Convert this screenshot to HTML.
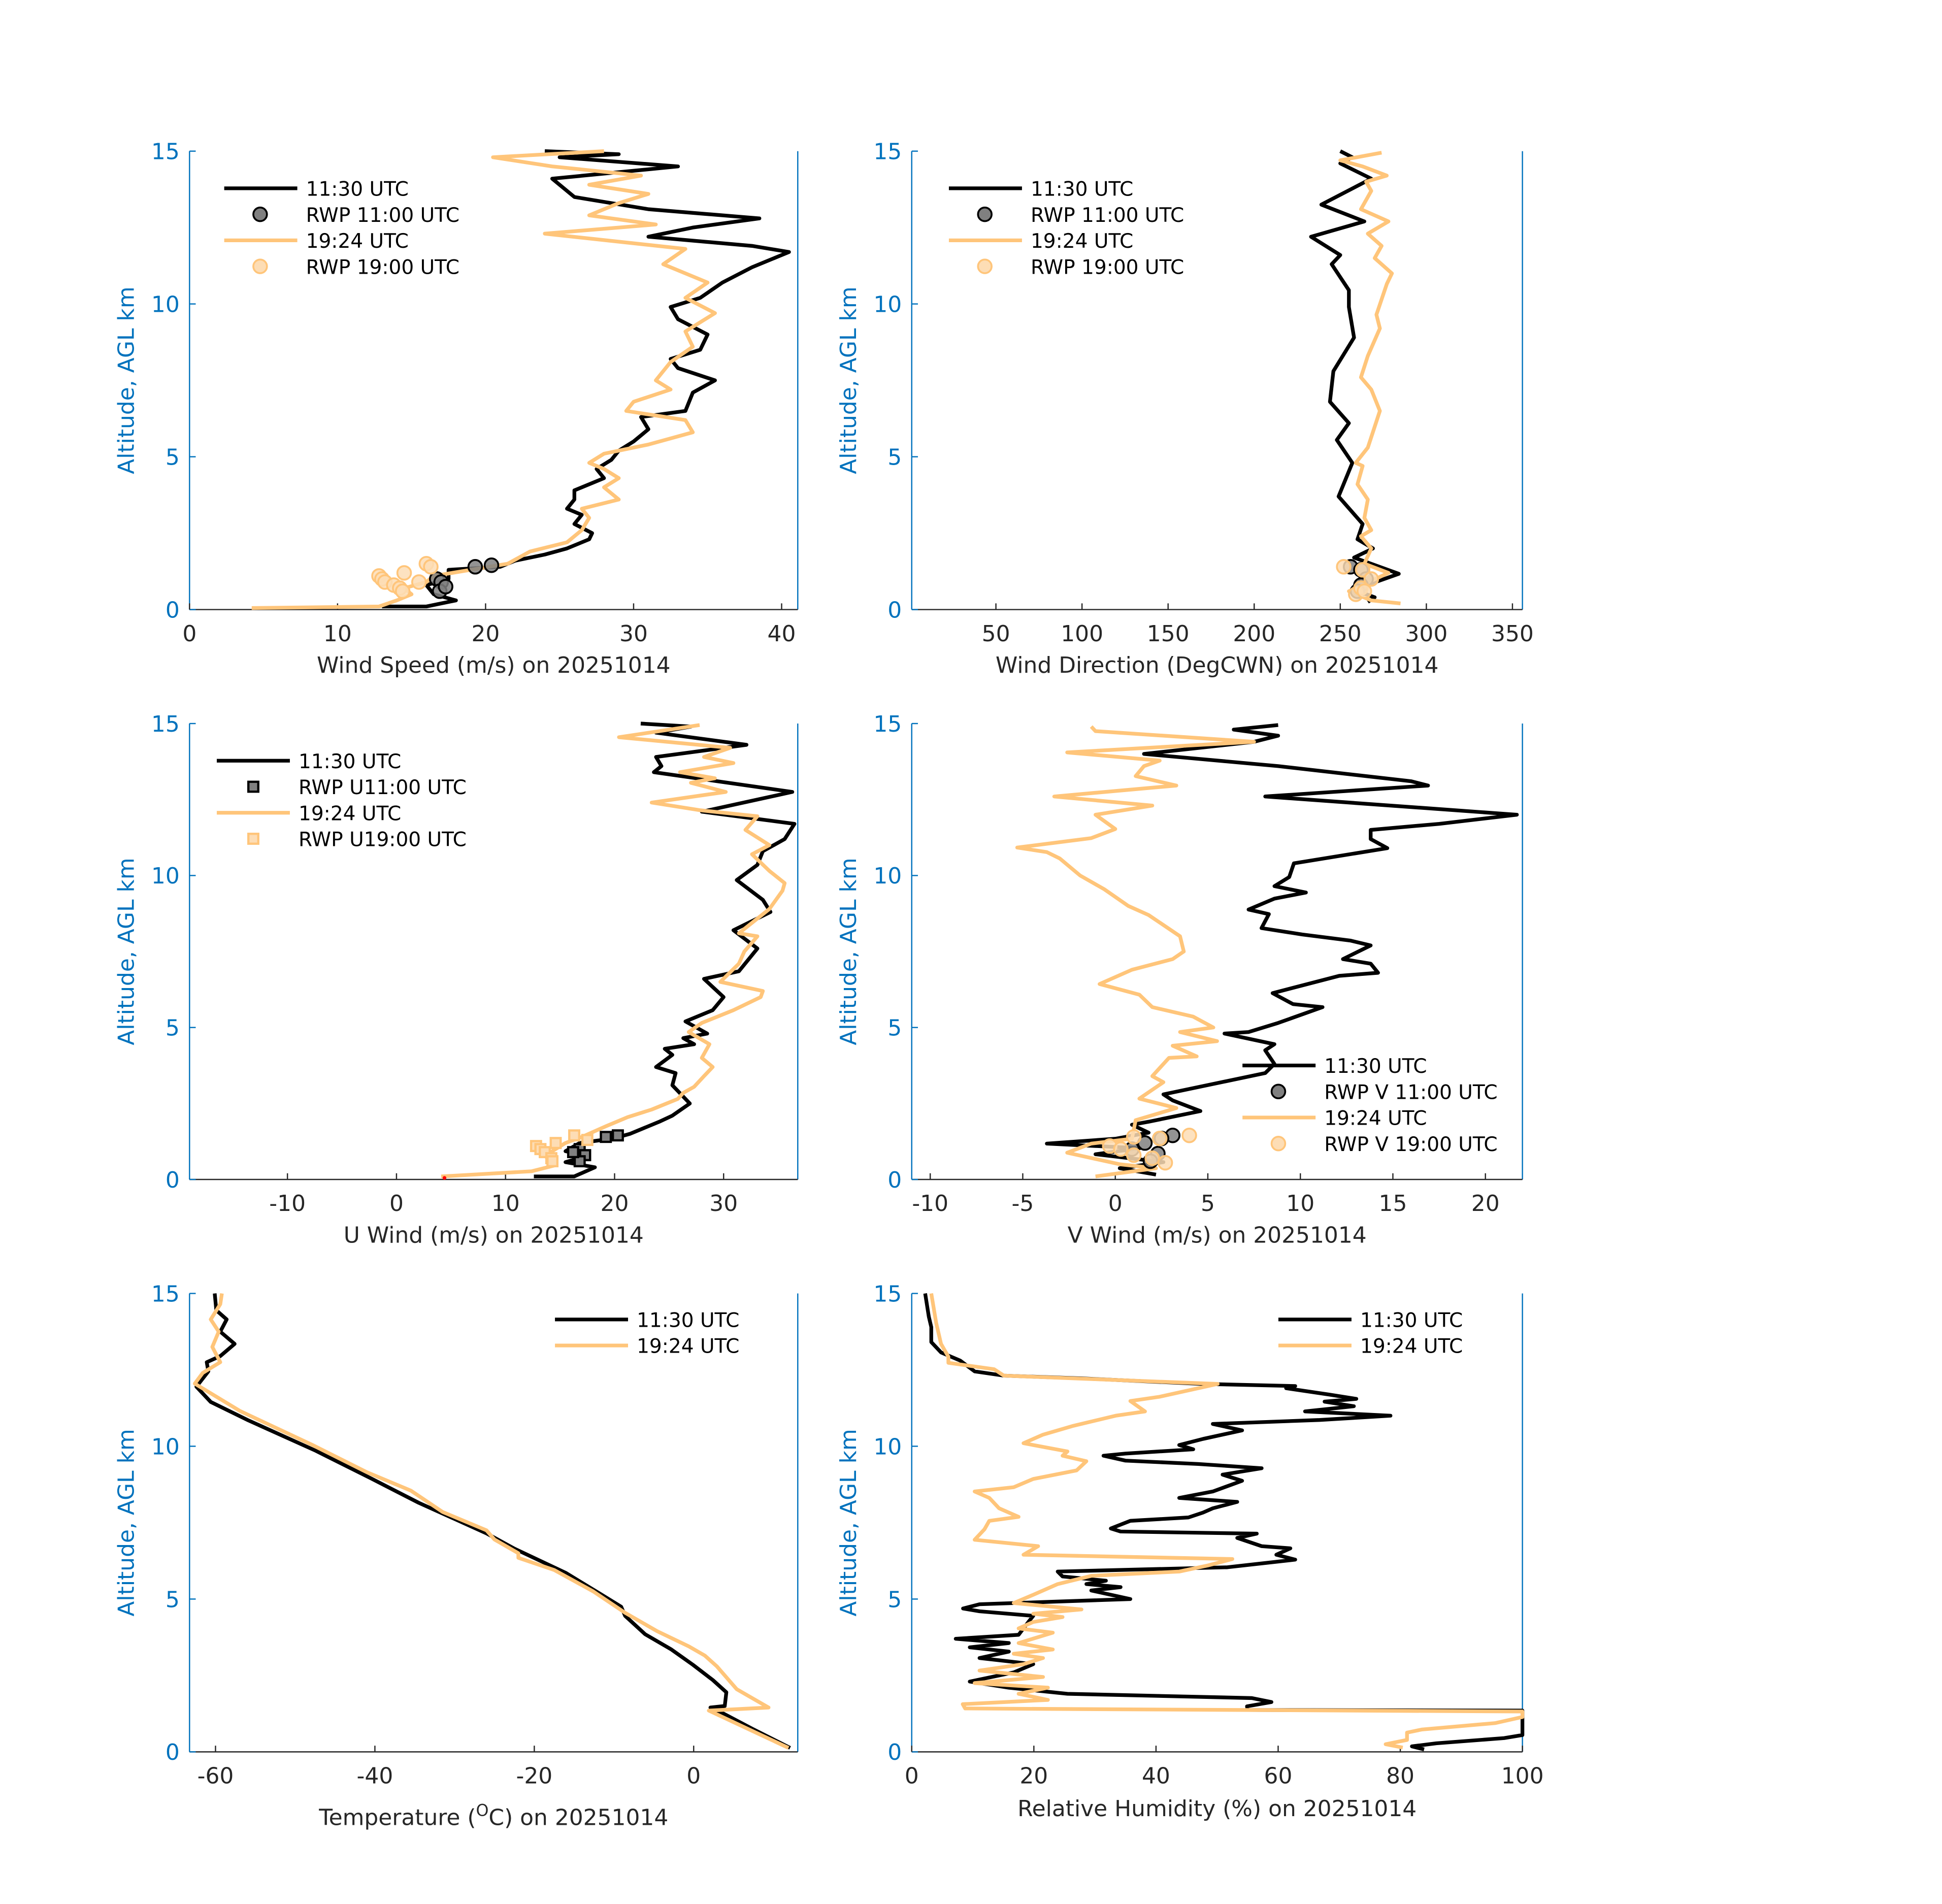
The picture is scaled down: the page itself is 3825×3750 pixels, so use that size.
<!DOCTYPE html>
<html><head><meta charset="utf-8"><style>
html,body{margin:0;padding:0;background:#fff;}
svg{display:block;font-family:"DejaVu Sans","Liberation Sans",sans-serif;}
</style></head><body>
<svg id="fig" xmlns="http://www.w3.org/2000/svg" width="3825" height="3750" viewBox="0 0 1567.7 1536.8" preserveAspectRatio="none"></svg>
<script>
// ---- data (altitude km, value) ----
const wsBlackAlt=[0.1,0.1,0.3,0.5,0.8,1.0,1.3,1.4,1.6,1.8,2.0,2.3,2.5,2.8,3.1,3.3,3.6,3.9,4.3,4.6,4.9,5.2,5.5,5.9,6.3,6.5,7.1,7.5,7.9,8.2,8.5,9.0,9.5,9.9,10.2,10.7,11.2,11.7,11.9,12.2,12.5,12.8,13.1,13.5,13.7,14.1,14.5,14.8,14.9,15];
const wsBlack=[13,16,18,16.5,16,17.5,17.5,21,22,24,25.5,27,27.2,26,26.5,25.5,26,26,28,27.5,28.5,29,30,31,30.5,33.5,34,35.5,33,32.5,34.5,35,33,32.5,34.5,36,38,40.5,38,31,34,38.5,31,26,25.5,24.5,33,25,29,24];
const wsOrangeAlt=[0.05,0.1,0.3,0.5,0.7,0.9,1.1,1.3,1.5,1.9,2.2,2.6,3.0,3.3,3.6,4.0,4.3,4.6,4.8,5.1,5.4,5.8,6.2,6.5,6.8,7.2,7.5,8.1,8.6,9.1,9.7,10.2,10.7,11.3,11.8,12.3,12.6,12.9,13.3,13.6,13.9,14.2,14.5,14.8,15];
const wsOrange=[4.2,12.8,14,15,14.5,16,16.5,19,21.5,23,25.5,26.5,27,26.5,29,28,29,28,27,28,31,34,33.5,29.5,30,32.5,31.5,32.5,34,33.5,35.5,33.5,35,32,33.5,24,31.5,27,29,31,27,30.5,24.5,20.5,28];
const wsRwpBlackAlt=[1.4,1.45,1.0,0.9,0.6,0.75];
const wsRwpBlack=[19.3,20.4,16.7,17,16.9,17.3];
const wsRwpOrangeAlt=[1.1,1.0,0.9,0.8,0.7,0.6,1.2,1.5,1.4,0.9];
const wsRwpOrange=[12.8,13,13.2,13.8,14.2,14.4,14.5,16,16.3,15.5];

const wdBlackAlt=[0.25,0.4,0.65,1.17,1.7,2.0,2.3,2.8,3.7,4.8,5.55,6.1,6.8,7.8,8.9,9.9,10.45,11.3,11.6,12.2,12.7,13.25,14.1,14.6,14.8,15];
const wdBlack=[266,270,258,284,258,269,260,263,249,257,248,255,244,246,258,255,255,245,250,233,264,239,268,250,257,250];
const wdOrangeAlt=[0.2,0.3,0.6,1.2,1.5,2.0,2.4,2.6,3.0,3.6,4.1,4.7,4.8,5.3,6.5,7.2,7.6,8.3,9.2,9.65,10.65,11.0,11.5,11.9,12.3,12.7,13.1,13.7,14.0,14.2,14.5,14.7,14.95];
const wdOrange=[285,268,255,278,264,268,262,268,264,266,260,263,259,266,273,268,262,266,273,271,277,280,270,274,266,278,262,268,265,277,263,250,274];
const wdRwpBlackAlt=[1.4,1.3,1.0,0.8,0.6];
const wdRwpBlack=[256,262,265,262,260];
const wdRwpOrangeAlt=[1.4,1.3,0.5,0.7,1.0,0.6];
const wdRwpOrange=[252,263,259,262,268,264];

const uBlackAlt=[0.1,0.1,0.4,0.57,0.78,0.93,1.2,1.35,1.5,1.9,2.1,2.5,3.1,3.5,3.7,4.1,4.3,4.45,4.65,4.8,5.2,5.57,6.0,6.6,6.85,7.6,8.2,8.8,9.2,9.85,10.35,10.8,11.2,11.7,12.1,12.75,13.4,13.6,13.9,14.3,14.7,14.9,15];
const uBlack=[12.6,16.3,18.2,15.5,17.5,15.5,16.8,19.9,21.4,24.1,25.3,26.9,25.3,25.6,23.8,25.3,24.6,27.3,26.3,28.5,26.5,29,30,28.2,31.4,33.1,30.9,34.3,33.6,31.2,33.1,33.6,35.6,36.5,28,36.3,23.6,24.3,23.8,32.1,23.8,27,22.4];
const uOrangeAlt=[0.1,0.27,0.47,0.78,1.2,1.4,1.75,2.05,2.3,2.65,2.85,3.05,3.4,3.7,4.0,4.45,4.85,5.15,5.57,6.0,6.2,6.5,7.1,7.5,8.0,8.1,8.9,9.5,9.75,10.15,10.7,11.0,11.5,11.95,12.15,12.4,12.75,13.05,13.2,13.4,13.7,13.9,14.2,14.55,14.95];
const uOrange=[4.1,12.4,14.6,13.6,15.5,17,19.2,21.2,23.4,25.8,26.3,27.3,28.2,29,28,28.7,26.8,28,30.9,33.4,33.6,29.7,31.4,31.9,33.1,31.4,34.2,35.4,35.6,34.2,32.6,34.2,32,33.1,27.8,23.4,30.2,27,29.2,26,30.9,28.2,30.6,20.4,27.8];
const uRwpBlackAlt=[1.4,1.45,1.0,0.8,0.6,0.9];
const uRwpBlack=[19.2,20.3,16.8,17.3,16.8,16.2];
const uRwpOrangeAlt=[1.1,1.0,0.9,0.7,0.6,1.2,1.45,1.3];
const uRwpOrange=[12.8,13.2,13.6,14.2,14.3,14.6,16.3,17.5];

const vBlackAlt=[0.16,0.37,0.57,0.83,1.03,1.18,1.34,1.54,1.8,1.9,2.25,2.6,2.8,3.5,3.8,4.25,4.45,4.8,4.85,5.15,5.67,5.77,6.13,6.7,6.8,7.1,7.25,7.7,7.86,8.06,8.27,8.73,8.88,9.24,9.44,9.65,9.95,10.4,10.9,11.2,11.5,11.7,12.0,12.6,12.96,13.1,13.6,14.0,14.4,14.6,14.8,14.95];
const vBlack=[2.2,0.24,2.6,-1.07,1.33,-3.7,0,1.8,0.9,1.8,4.6,3.1,2.6,8.1,8.6,8.1,8.6,5.9,7.2,8.8,11.2,9.6,8.5,12.1,14.2,13.8,12.3,13.8,12.7,10.1,7.9,8.3,7.2,8.6,10.3,8.6,9.4,9.65,14.7,13.8,13.8,17.5,21.7,8.1,16.9,16,8.8,1.55,7.5,8.8,6.4,8.8];
const vOrangeAlt=[0.1,0.37,0.5,0.88,1.18,1.34,1.95,2.35,2.66,3.2,3.4,4.0,4.05,4.4,4.55,4.85,5.0,5.36,5.67,6.08,6.43,6.9,7.25,7.5,8.0,8.7,9.0,9.55,10.0,10.56,10.77,10.92,11.23,11.53,12.0,12.3,12.6,12.96,13.27,13.6,13.78,14.05,14.4,14.75,14.9];
const vOrange=[-1.07,2.2,0.24,-2.6,-1.3,0.9,1.1,3.3,1.3,2.6,2.0,2.9,4.4,3.1,5.5,3.5,5.3,4.2,2.0,1.3,-0.85,0.9,3.1,3.7,3.5,1.8,0.7,-0.6,-1.9,-3.0,-3.7,-5.3,-1.3,0,-1.07,2.0,-3.3,3.3,1.1,1.55,2.4,-2.6,7.5,-1.07,-1.3];
const vRwpBlackAlt=[1.45,1.35,0.85,0.6,1.0,1.2];
const vRwpBlack=[3.1,2.5,2.3,1.9,0.9,1.6];
const vRwpOrangeAlt=[1.45,1.35,1.1,1.0,0.8,0.55,0.7,1.4];
const vRwpOrange=[4.0,2.4,-0.3,0.3,1.0,2.7,2.0,1.0];

const tBlackAlt=[0.13,0.75,1.3,1.45,1.5,1.95,2.35,2.85,3.35,3.85,4.45,4.75,5.15,5.85,6.65,7.15,8.15,8.95,9.85,10.85,11.45,11.95,12.45,12.75,12.95,13.35,13.75,14.15,14.45,15];
const tBlack=[12.1,7.4,3.4,2.1,3.9,4.1,2.4,-0.1,-2.8,-6.1,-8.6,-9.1,-11.6,-16,-22.5,-26,-34.5,-40.5,-47.4,-55.9,-60.6,-62.4,-60.9,-61.1,-59.4,-57.6,-59.4,-58.6,-59.9,-60.1];
const tOrangeAlt=[0.13,1.35,1.45,2.05,2.8,3.15,3.45,3.95,4.55,5.25,5.95,6.35,6.5,6.95,7.25,7.85,8.55,9.15,10.05,11.15,12.05,12.4,12.75,13.25,13.75,14.15,14.65,15];
const tOrange=[11.9,1.9,9.4,5.4,2.9,1.4,-0.6,-4.6,-8.6,-12.6,-17.5,-22,-22,-25,-26,-31.5,-35.5,-41,-47.9,-56.9,-62.6,-61.6,-59.4,-60.4,-59.6,-60.6,-59.4,-59.2];

const rhBlackAlt=[0.08,0.18,0.28,0.45,0.55,1.35,1.37,1.49,1.63,1.76,1.9,2.1,2.3,2.6,2.87,3.07,3.28,3.42,3.56,3.7,3.83,4.25,4.45,4.6,4.69,4.83,5.0,5.28,5.39,5.49,5.6,5.74,5.9,6.04,6.29,6.45,6.66,6.73,7.0,7.14,7.21,7.31,7.56,7.67,7.83,7.97,8.18,8.31,8.52,8.87,9.07,9.28,9.42,9.53,9.69,9.76,9.9,10.04,10.24,10.52,10.73,10.86,11.0,11.14,11.31,11.46,11.55,11.69,11.9,11.97,12.04,12.22,12.31,12.45,12.8,13.07,13.41,13.9,14.24,15];
const rhBlack=[83.9,81.9,85.9,97,100,100,55,54.9,58.9,55.7,25.5,15.9,9.5,16.7,19.9,11.1,15.9,9.5,15.9,7.2,17.5,19.1,19.9,11.1,8.4,11.1,35.8,29.4,34.2,28.6,31.8,24.7,23.9,51.7,62.8,59.7,62,57.3,53.3,56.5,34.2,32.6,35.8,45.3,47.7,49.3,53.3,43.8,49.3,54.1,50.9,57.3,46.9,35,31.4,35,46.1,43.8,47.7,54.1,49.3,66.8,78.4,64.4,72.4,67.6,72.8,68.4,61.3,62.8,47.7,27.8,15.1,10.3,7.96,4.8,3.2,3.2,2.8,2.2];
const rhOrangeAlt=[0.14,0.25,0.39,0.63,0.73,0.94,1.14,1.32,1.42,1.56,1.7,1.9,2.1,2.25,2.45,2.66,2.87,3.07,3.21,3.35,3.56,3.9,4.04,4.25,4.41,4.52,4.66,4.87,5.14,5.49,5.76,5.9,6.1,6.31,6.45,6.73,6.94,7.28,7.56,7.69,7.97,8.31,8.52,8.66,8.93,9.21,9.51,9.69,9.83,10.1,10.38,10.66,11.0,11.14,11.48,11.62,12.04,12.2,12.31,12.52,12.73,12.93,13.35,14.04,15];
const rhOrange=[80.4,77.6,81.1,81.1,83.5,95.5,100,100,8.75,8.35,22.3,17.5,22.3,10.3,21.5,11.1,18.3,21.5,16.7,23.1,17.5,23.1,17.5,19.9,24.7,19.9,27.8,16.7,19.9,23.9,29.4,43.8,48.5,52.5,18.3,20.7,10.3,11.9,12.7,17.5,14.3,12.7,10.3,16.7,19.9,27,28.6,24.7,25.5,18.3,21.5,26.3,33.4,38.2,35.8,40.6,50.1,29.4,15.1,13.5,6,6,4.8,4,3.2];

const wsTicks=[0,10,20,30,40];
const wdTicks=[50,100,150,200,250,300,350];
const uTicks=[-10,0,10,20,30];
const vTicks=[-10,-5,0,5,10,15,20];
const tTicks=[-60,-40,-20,0];
const rhTicks=[0,20,40,60,80,100];
const altTicks=[0,5,10,15];

const NS="http://www.w3.org/2000/svg";
const svg=document.getElementById('fig');
const BLUE="#0072BD", DARK="#262626", ORANGE="#FFC57A", ORFILL="#FDDDB5";
const FS=18;
function mk(tag,attrs,parent){const e=document.createElementNS(NS,tag);for(const k in attrs)e.setAttribute(k,attrs[k]);(parent||svg).appendChild(e);return e;}

function panel(cfg){
  const g=mk('g',{});
  
  
  const sx=v=>cfg.px0+(v-cfg.xmin)/(cfg.xmax-cfg.xmin)*(cfg.px1-cfg.px0);
  const sy=a=>cfg.py1-(a-0)/15*(cfg.py1-cfg.py0);
  cfg.sx=sx;cfg.sy=sy;cfg.g=g;
  const la=mk('line',{x1:cfg.px0,y1:cfg.py0,x2:cfg.px0,y2:cfg.py1,stroke:BLUE,'stroke-width':1},g);
  
  const ra=mk('line',{x1:cfg.px1,y1:cfg.py0,x2:cfg.px1,y2:cfg.py1,stroke:BLUE,'stroke-width':1},g);
  
  const ba=mk('line',{x1:cfg.px0,y1:cfg.py1,x2:cfg.px1,y2:cfg.py1,stroke:DARK,'stroke-width':1},g);
  
  altTicks.forEach(a=>{
    mk('line',{x1:cfg.px0,y1:sy(a),x2:cfg.px0+5,y2:sy(a),stroke:BLUE,'stroke-width':1},g);
    const t=mk('text',{x:cfg.px0-8,y:sy(a)+6.5,'text-anchor':'end','font-size':FS,fill:BLUE},g);
    t.textContent=a;
    
  });
  cfg.ticks.forEach(v=>{
    mk('line',{x1:sx(v),y1:cfg.py1,x2:sx(v),y2:cfg.py1-5,stroke:DARK,'stroke-width':1},g);
    const t=mk('text',{x:sx(v),y:cfg.py1+25.5,'text-anchor':'middle','font-size':FS,fill:DARK},g);
    t.textContent=v;
    
  });
  const yl=mk('text',{x:0,y:0,'text-anchor':'middle','font-size':FS,fill:BLUE,transform:`translate(${cfg.px0-45},${(cfg.py0+cfg.py1)/2}) rotate(-90)`},g);
  yl.textContent='Altitude, AGL km';
  
  const xl=mk('text',{x:(cfg.px0+cfg.px1)/2,y:cfg.py1+cfg.xlOff,'text-anchor':'middle','font-size':FS,fill:DARK},g);
  xl.innerHTML=cfg.xlabel;
  
  return cfg;
}
function line(cfg,alts,vals,color,name){
  let d='';
  alts.forEach((a,i)=>{d+=(i?'L':'M')+cfg.sx(vals[i]).toFixed(2)+','+cfg.sy(a).toFixed(2);});
  const p=mk('path',{d:d,fill:'none',stroke:color,'stroke-width':3,'stroke-linejoin':'round'},cfg.g);
  
  
}
function markers(cfg,alts,vals,stroke,fill,shape,name){
  alts.forEach((a,i)=>{
    const x=cfg.sx(vals[i]),y=cfg.sy(a);
    let m;
    if(shape==='sq') m=mk('rect',{x:x-4,y:y-4,width:8,height:8,fill:fill,stroke:stroke,'stroke-width':1.8},cfg.g);
    else m=mk('circle',{cx:x,cy:y,r:5.5,fill:fill,stroke:stroke,'stroke-width':1.5,'fill-opacity':0.85},cfg.g);
    
    
  });
}
function legend(cfg,lx,ly,entries){
  const g=mk('g',{},cfg.g);
  
  
  entries.forEach((e,i)=>{
    const y=ly+i*21;
    if(e.type==='line') mk('line',{x1:lx,y1:y,x2:lx+59,y2:y,stroke:e.color,'stroke-width':3},g);
    else if(e.type==='sq') mk('rect',{x:lx+25.5,y:y-4,width:8,height:8,fill:e.fill,stroke:e.color,'stroke-width':1.8},g);
    else mk('circle',{cx:lx+29,cy:y,r:5.5,fill:e.fill,stroke:e.color,'stroke-width':1.5},g);
    const t=mk('text',{x:lx+66,y:y+6,'font-size':16,fill:'#000'},g);
    t.textContent=e.label;
    
  });
}
const R1=[122,492],R2=[584,952],R3=[1044,1414];
const L=[153,644],Rt=[736,1229];

const p1=panel({name:'wind-speed-panel',px0:L[0],px1:L[1],py0:R1[0],py1:R1[1],xmin:0,xmax:41.09,ticks:wsTicks,xlabel:'Wind Speed (m/s) on 20251014',xlOff:51});
line(p1,wsBlackAlt,wsBlack,'#000','wind-speed-1130');
line(p1,wsOrangeAlt,wsOrange,ORANGE,'wind-speed-1924');
markers(p1,wsRwpBlackAlt,wsRwpBlack,'#000','#808080','c','rwp-1100-marker');
markers(p1,wsRwpOrangeAlt,wsRwpOrange,ORANGE,ORFILL,'c','rwp-1900-marker');
legend(p1,181,152,[{type:'line',color:'#000',label:'11:30 UTC'},{type:'c',color:'#000',fill:'#808080',label:'RWP 11:00 UTC'},{type:'line',color:ORANGE,label:'19:24 UTC'},{type:'c',color:ORANGE,fill:ORFILL,label:'RWP 19:00 UTC'}]);

const p2=panel({name:'wind-direction-panel',px0:Rt[0],px1:Rt[1],py0:R1[0],py1:R1[1],xmin:1.1,xmax:355.8,ticks:wdTicks,xlabel:'Wind Direction (DegCWN) on 20251014',xlOff:51});
line(p2,wdBlackAlt,wdBlack,'#000','wind-direction-1130');
line(p2,wdOrangeAlt,wdOrange,ORANGE,'wind-direction-1924');
markers(p2,wdRwpBlackAlt,wdRwpBlack,'#000','#808080','c','rwp-1100-marker');
markers(p2,wdRwpOrangeAlt,wdRwpOrange,ORANGE,ORFILL,'c','rwp-1900-marker');
legend(p2,766,152,[{type:'line',color:'#000',label:'11:30 UTC'},{type:'c',color:'#000',fill:'#808080',label:'RWP 11:00 UTC'},{type:'line',color:ORANGE,label:'19:24 UTC'},{type:'c',color:ORANGE,fill:ORFILL,label:'RWP 19:00 UTC'}]);

const p3=panel({name:'u-wind-panel',px0:L[0],px1:L[1],py0:R2[0],py1:R2[1],xmin:-18.98,xmax:36.8,ticks:uTicks,xlabel:'U Wind (m/s) on 20251014',xlOff:51});
line(p3,uBlackAlt,uBlack,'#000','u-wind-1130');
line(p3,uOrangeAlt,uOrange,ORANGE,'u-wind-1924');
markers(p3,uRwpBlackAlt,uRwpBlack,'#000','#808080','sq','rwp-u-1100-marker');
markers(p3,uRwpOrangeAlt,uRwpOrange,ORANGE,ORFILL,'sq','rwp-u-1900-marker');
const red=mk('circle',{cx:p3.sx(4.4),cy:p3.sy(0.05),r:1.5,fill:'#ff0000'},p3.g);

legend(p3,175,614,[{type:'line',color:'#000',label:'11:30 UTC'},{type:'sq',color:'#000',fill:'#808080',label:'RWP U11:00 UTC'},{type:'line',color:ORANGE,label:'19:24 UTC'},{type:'sq',color:ORANGE,fill:ORFILL,label:'RWP U19:00 UTC'}]);

const p4=panel({name:'v-wind-panel',px0:Rt[0],px1:Rt[1],py0:R2[0],py1:R2[1],xmin:-11.0,xmax:22.0,ticks:vTicks,xlabel:'V Wind (m/s) on 20251014',xlOff:51});
line(p4,vBlackAlt,vBlack,'#000','v-wind-1130');
line(p4,vOrangeAlt,vOrange,ORANGE,'v-wind-1924');
markers(p4,vRwpBlackAlt,vRwpBlack,'#000','#808080','c','rwp-v-1100-marker');
markers(p4,vRwpOrangeAlt,vRwpOrange,ORANGE,ORFILL,'c','rwp-v-1900-marker');
legend(p4,1003,860,[{type:'line',color:'#000',label:'11:30 UTC'},{type:'c',color:'#000',fill:'#808080',label:'RWP V 11:00 UTC'},{type:'line',color:ORANGE,label:'19:24 UTC'},{type:'c',color:ORANGE,fill:ORFILL,label:'RWP V 19:00 UTC'}]);

const p5=panel({name:'temperature-panel',px0:L[0],px1:L[1],py0:R3[0],py1:R3[1],xmin:-63.26,xmax:13.06,ticks:tTicks,xlabel:'Temperature (<tspan baseline-shift="super" font-size="13">O</tspan>C) on 20251014',xlOff:59});
line(p5,tBlackAlt,tBlack,'#000','temperature-1130');
line(p5,tOrangeAlt,tOrange,ORANGE,'temperature-1924');
legend(p5,448,1065,[{type:'line',color:'#000',label:'11:30 UTC'},{type:'line',color:ORANGE,label:'19:24 UTC'}]);

const p6=panel({name:'relative-humidity-panel',px0:Rt[0],px1:Rt[1],py0:R3[0],py1:R3[1],xmin:0,xmax:100,ticks:rhTicks,xlabel:'Relative Humidity (%) on 20251014',xlOff:52});
line(p6,rhBlackAlt,rhBlack,'#000','rh-1130');
line(p6,rhOrangeAlt,rhOrange,ORANGE,'rh-1924');
legend(p6,1032,1065,[{type:'line',color:'#000',label:'11:30 UTC'},{type:'line',color:ORANGE,label:'19:24 UTC'}]);
</script>
</body></html>
